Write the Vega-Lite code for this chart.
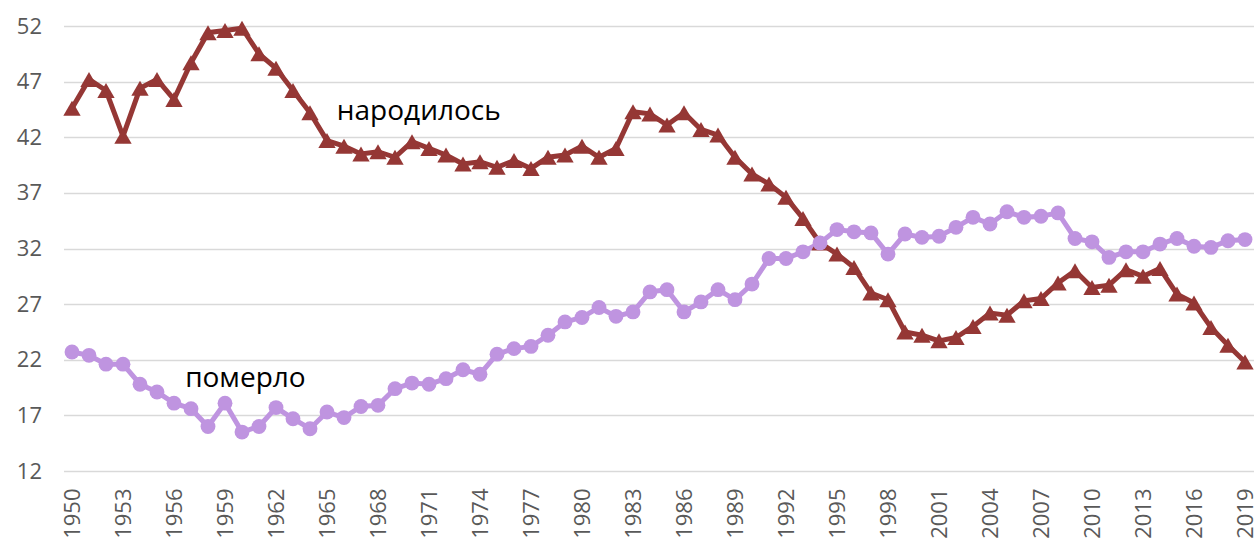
{
  "$schema": "https://vega.github.io/schema/vega-lite/v6.json",
  "width": 1190,
  "height": 445,
  "autosize": {"type": "none"},
  "padding": {"left": 63.5, "top": 26, "right": 5.5, "bottom": 69},
  "background": "white",
  "config": {"view": {"stroke": null}},
  "datasets": {
    "series": [
      {"year":1950,"s":"births","v":44.6},{"year":1951,"s":"births","v":47.2},{"year":1952,"s":"births","v":46.2},{"year":1953,"s":"births","v":42.1},{"year":1954,"s":"births","v":46.4},{"year":1955,"s":"births","v":47.2},{"year":1956,"s":"births","v":45.4},{"year":1957,"s":"births","v":48.7},{"year":1958,"s":"births","v":51.4},{"year":1959,"s":"births","v":51.6},
      {"year":1960,"s":"births","v":51.8},{"year":1961,"s":"births","v":49.5},{"year":1962,"s":"births","v":48.2},{"year":1963,"s":"births","v":46.2},{"year":1964,"s":"births","v":44.2},{"year":1965,"s":"births","v":41.7},{"year":1966,"s":"births","v":41.2},{"year":1967,"s":"births","v":40.5},{"year":1968,"s":"births","v":40.7},{"year":1969,"s":"births","v":40.2},
      {"year":1970,"s":"births","v":41.6},{"year":1971,"s":"births","v":41.0},{"year":1972,"s":"births","v":40.4},{"year":1973,"s":"births","v":39.6},{"year":1974,"s":"births","v":39.8},{"year":1975,"s":"births","v":39.3},{"year":1976,"s":"births","v":39.9},{"year":1977,"s":"births","v":39.2},{"year":1978,"s":"births","v":40.2},{"year":1979,"s":"births","v":40.4},
      {"year":1980,"s":"births","v":41.2},{"year":1981,"s":"births","v":40.2},{"year":1982,"s":"births","v":41.0},{"year":1983,"s":"births","v":44.3},{"year":1984,"s":"births","v":44.1},{"year":1985,"s":"births","v":43.1},{"year":1986,"s":"births","v":44.2},{"year":1987,"s":"births","v":42.7},{"year":1988,"s":"births","v":42.2},{"year":1989,"s":"births","v":40.2},
      {"year":1990,"s":"births","v":38.7},{"year":1991,"s":"births","v":37.8},{"year":1992,"s":"births","v":36.6},{"year":1993,"s":"births","v":34.7},{"year":1994,"s":"births","v":32.5},{"year":1995,"s":"births","v":31.5},{"year":1996,"s":"births","v":30.3},{"year":1997,"s":"births","v":28.0},{"year":1998,"s":"births","v":27.4},{"year":1999,"s":"births","v":24.5},
      {"year":2000,"s":"births","v":24.2},{"year":2001,"s":"births","v":23.7},{"year":2002,"s":"births","v":24.0},{"year":2003,"s":"births","v":25.0},{"year":2004,"s":"births","v":26.2},{"year":2005,"s":"births","v":26.0},{"year":2006,"s":"births","v":27.3},{"year":2007,"s":"births","v":27.5},{"year":2008,"s":"births","v":28.9},{"year":2009,"s":"births","v":30.0},
      {"year":2010,"s":"births","v":28.5},{"year":2011,"s":"births","v":28.7},{"year":2012,"s":"births","v":30.1},{"year":2013,"s":"births","v":29.5},{"year":2014,"s":"births","v":30.2},{"year":2015,"s":"births","v":27.9},{"year":2016,"s":"births","v":27.1},{"year":2017,"s":"births","v":24.9},{"year":2018,"s":"births","v":23.3},{"year":2019,"s":"births","v":21.8},
      {"year":1950,"s":"deaths","v":22.7},{"year":1951,"s":"deaths","v":22.4},{"year":1952,"s":"deaths","v":21.6},{"year":1953,"s":"deaths","v":21.6},{"year":1954,"s":"deaths","v":19.8},{"year":1955,"s":"deaths","v":19.1},{"year":1956,"s":"deaths","v":18.1},{"year":1957,"s":"deaths","v":17.6},{"year":1958,"s":"deaths","v":16.0},{"year":1959,"s":"deaths","v":18.1},
      {"year":1960,"s":"deaths","v":15.5},{"year":1961,"s":"deaths","v":16.0},{"year":1962,"s":"deaths","v":17.7},{"year":1963,"s":"deaths","v":16.7},{"year":1964,"s":"deaths","v":15.8},{"year":1965,"s":"deaths","v":17.3},{"year":1966,"s":"deaths","v":16.8},{"year":1967,"s":"deaths","v":17.8},{"year":1968,"s":"deaths","v":17.9},{"year":1969,"s":"deaths","v":19.4},
      {"year":1970,"s":"deaths","v":19.9},{"year":1971,"s":"deaths","v":19.8},{"year":1972,"s":"deaths","v":20.3},{"year":1973,"s":"deaths","v":21.1},{"year":1974,"s":"deaths","v":20.7},{"year":1975,"s":"deaths","v":22.5},{"year":1976,"s":"deaths","v":23.0},{"year":1977,"s":"deaths","v":23.2},{"year":1978,"s":"deaths","v":24.2},{"year":1979,"s":"deaths","v":25.4},
      {"year":1980,"s":"deaths","v":25.8},{"year":1981,"s":"deaths","v":26.7},{"year":1982,"s":"deaths","v":25.9},{"year":1983,"s":"deaths","v":26.3},{"year":1984,"s":"deaths","v":28.1},{"year":1985,"s":"deaths","v":28.3},{"year":1986,"s":"deaths","v":26.3},{"year":1987,"s":"deaths","v":27.2},{"year":1988,"s":"deaths","v":28.3},{"year":1989,"s":"deaths","v":27.4},
      {"year":1990,"s":"deaths","v":28.8},{"year":1991,"s":"deaths","v":31.1},{"year":1992,"s":"deaths","v":31.1},{"year":1993,"s":"deaths","v":31.7},{"year":1994,"s":"deaths","v":32.5},{"year":1995,"s":"deaths","v":33.7},{"year":1996,"s":"deaths","v":33.5},{"year":1997,"s":"deaths","v":33.4},{"year":1998,"s":"deaths","v":31.5},{"year":1999,"s":"deaths","v":33.3},
      {"year":2000,"s":"deaths","v":33.0},{"year":2001,"s":"deaths","v":33.1},{"year":2002,"s":"deaths","v":33.9},{"year":2003,"s":"deaths","v":34.8},{"year":2004,"s":"deaths","v":34.2},{"year":2005,"s":"deaths","v":35.3},{"year":2006,"s":"deaths","v":34.8},{"year":2007,"s":"deaths","v":34.9},{"year":2008,"s":"deaths","v":35.2},{"year":2009,"s":"deaths","v":32.9},
      {"year":2010,"s":"deaths","v":32.6},{"year":2011,"s":"deaths","v":31.2},{"year":2012,"s":"deaths","v":31.7},{"year":2013,"s":"deaths","v":31.7},{"year":2014,"s":"deaths","v":32.4},{"year":2015,"s":"deaths","v":32.9},{"year":2016,"s":"deaths","v":32.2},{"year":2017,"s":"deaths","v":32.1},{"year":2018,"s":"deaths","v":32.7},{"year":2019,"s":"deaths","v":32.8}
    ],
    "labels": [
      {"year":1970.4,"v":44.3,"text":"народилось"},
      {"year":1960.2,"v":20.3,"text":"померло"}
    ]
  },
  "encoding": {
    "x": {
      "field": "year", "type": "quantitative",
      "scale": {"domain": [1949.5, 2019.5], "nice": false, "zero": false},
      "axis": {
        "title": null, "grid": false, "domain": false, "ticks": false,
        "values": [1950,1953,1956,1959,1962,1965,1968,1971,1974,1977,1980,1983,1986,1989,1992,1995,1998,2001,2004,2007,2010,2013,2016,2019],
        "format": "d", "labelAngle": -90, "labelAlign": "right", "labelBaseline": "middle",
        "labelPadding": 17, "labelFont": "Open Sans", "labelFontSize": 22, "labelColor": "#595959",
        "labelOverlap": false, "labelBound": false, "labelFlush": false
      }
    },
    "y": {
      "field": "v", "type": "quantitative",
      "scale": {"domain": [12, 52], "nice": false, "zero": false},
      "axis": {
        "title": null, "domain": false, "ticks": false,
        "values": [12,17,22,27,32,37,42,47,52],
        "grid": true, "gridColor": "#D9D9D9", "gridWidth": 1.5,
        "labelPadding": 22, "labelFont": "Open Sans", "labelFontSize": 22, "labelColor": "#595959"
      }
    }
  },
  "layer": [
    {
      "data": {"name": "series"},
      "mark": {"type": "line", "strokeWidth": 5},
      "encoding": {
        "color": {"field": "s", "type": "nominal", "legend": null,
          "scale": {"domain": ["births", "deaths"], "range": ["#953735", "#BF94E0"]}},
        "detail": {"field": "s"}
      }
    },
    {
      "data": {"name": "series"},
      "mark": {"type": "point", "filled": true, "opacity": 1},
      "encoding": {
        "color": {"field": "s", "type": "nominal", "legend": null,
          "scale": {"domain": ["births", "deaths"], "range": ["#953735", "#BF94E0"]}},
        "shape": {"field": "s", "type": "nominal", "legend": null,
          "scale": {"domain": ["births", "deaths"], "range": ["triangle-up", "circle"]}},
        "size": {"field": "s", "type": "nominal", "legend": null,
          "scale": {"domain": ["births", "deaths"], "range": [300, 220]}}
      }
    },
    {
      "data": {"name": "labels"},
      "mark": {"type": "text", "font": "Open Sans", "fontSize": 28, "color": "#000000", "align": "center", "baseline": "middle"},
      "encoding": {"text": {"field": "text"}}
    }
  ]
}
